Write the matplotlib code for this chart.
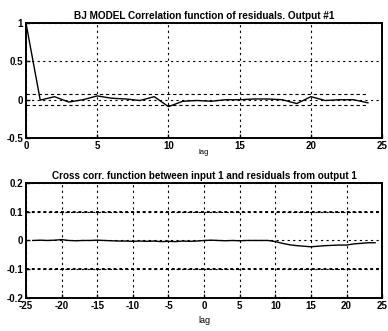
import matplotlib
matplotlib.use("Agg")
import matplotlib.pyplot as plt
import numpy as np

# residual autocorrelation, lags 0..24
acf_lags = list(range(0, 25))
acf_vals = [1.0, -0.005, 0.04, -0.03, 0.0, 0.05, 0.02, 0.01, -0.01, 0.04,
            -0.09, -0.02, -0.01, -0.02, 0.0, 0.0, 0.01, 0.01, 0.0, -0.05,
            0.04, -0.01, 0.0, 0.0, -0.04]
acf_conf = 0.07

# cross correlation input 1 / residuals, lags -24..24
ccf_lags = list(range(-24, 25))
ccf_vals = [0.0, 0.001, 0.0, 0.001, 0.003, 0.0, -0.001, 0.0, 0.0, 0.001,
            0.0, -0.001, -0.002, -0.002, -0.003, -0.002, -0.003, -0.002, -0.004, -0.003,
            -0.004, -0.002, -0.003, -0.002, 0.0, 0.001, 0.0, -0.001, 0.0, -0.001,
            0.0, 0.0, 0.0, 0.0, -0.004, -0.010, -0.015, -0.018, -0.020, -0.022,
            -0.020, -0.018, -0.017, -0.016, -0.016, -0.012, -0.010, -0.008, -0.008]
ccf_conf = 0.1

plt.rcParams["font.family"] = ["Liberation Sans", "DejaVu Sans"]
plt.rcParams["font.weight"] = "bold"
plt.rcParams["axes.unicode_minus"] = False

fig = plt.figure(figsize=(3.88, 3.31), dpi=100)
fig.patch.set_facecolor("white")

ax1 = fig.add_axes([0.067, 0.583, 0.918, 0.347])
ax2 = fig.add_axes([0.067, 0.100, 0.918, 0.347])

grid_kw = dict(color="black", linestyle=(0, (2, 3)), linewidth=0.8)

# top: autocorrelation of residuals
ax1.plot(acf_lags, acf_vals, color="black", linewidth=1.0)
ax1.plot([0, 24], [acf_conf, acf_conf], color="black", linestyle=(0, (3, 2.5)), linewidth=0.8)
ax1.plot([0, 24], [-acf_conf, -acf_conf], color="black", linestyle=(0, (3, 2.5)), linewidth=0.8)
ax1.set_xlim(0, 25)
ax1.set_ylim(-0.5, 1)
ax1.set_xticks([0, 5, 10, 15, 20, 25])
ax1.set_yticks([-0.5, 0, 0.5, 1])
ax1.set_yticklabels(["-0.5", "0", "0.5", "1"])
ax1.grid(True, **grid_kw)
ax1.set_title("BJ MODEL Correlation function of residuals. Output #1",
              fontsize=7.2, fontweight="bold", pad=3)
ax1.set_xlabel("lag", fontsize=5.5, labelpad=-1)

# bottom: cross correlation
ax2.plot(ccf_lags, ccf_vals, color="black", linewidth=1.0)
ax2.plot([-25, 25], [ccf_conf, ccf_conf], color="black", linestyle=(0, (1.5, 1.5)), linewidth=1.4)
ax2.plot([-25, 25], [-ccf_conf, -ccf_conf], color="black", linestyle=(0, (1.5, 1.5)), linewidth=1.4)
ax2.set_xlim(-25, 25)
ax2.set_ylim(-0.2, 0.2)
ax2.set_xticks(range(-25, 26, 5))
ax2.set_yticks([-0.2, -0.1, 0, 0.1, 0.2])
ax2.set_yticklabels(["-0.2", "-0.1", "0", "0.1", "0.2"])
ax2.grid(True, **grid_kw)
ax2.set_title("Cross corr. function between input 1 and residuals from output 1",
              fontsize=7.1, fontweight="bold", pad=3)
ax2.set_xlabel("lag", fontsize=6.5, labelpad=4)

for ax in (ax1, ax2):
    ax.set_facecolor("white")
    ax.set_axisbelow(True)
    for s in ax.spines.values():
        s.set_linewidth(1.4)
    ax.tick_params(direction="in", length=3, width=1, labelsize=7, pad=2)
    for lab in ax.get_xticklabels() + ax.get_yticklabels():
        lab.set_fontweight("bold")

fig.savefig("out.png", dpi=100, facecolor="white")
